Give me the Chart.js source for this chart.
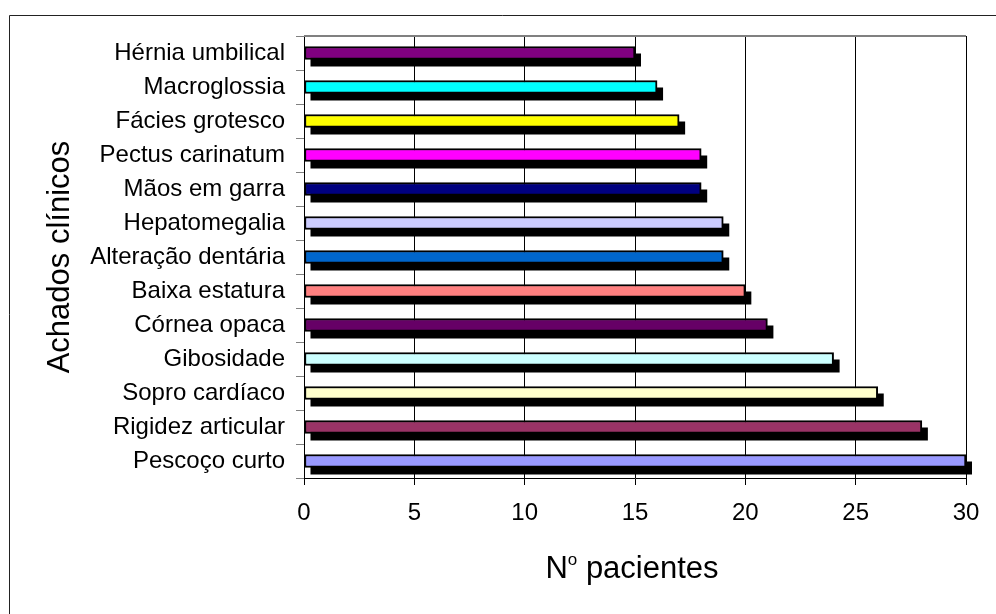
<!DOCTYPE html>
<html>
<head>
<meta charset="utf-8">
<script src="https://cdn.jsdelivr.net/npm/chart.js@4/dist/chart.umd.min.js"></script>
<style>
  html,body{margin:0;padding:0;background:#fff;}
  canvas{display:block;}
</style>
</head>
<body>
<canvas id="chart" width="996" height="614"></canvas>
<script>
// ===== Dados =====
const categories = [
  "Hérnia umbilical","Macroglossia","Fácies grotesco","Pectus carinatum",
  "Mãos em garra","Hepatomegalia","Alteração dentária","Baixa estatura",
  "Córnea opaca","Gibosidade","Sopro cardíaco","Rigidez articular","Pescoço curto"
];
const pacientes = [15,16,17,18,18,19,19,20,21,24,26,28,30];
const barColors = [
  "#800080","#00FFFF","#FFFF00","#FF00FF","#000080","#CCCCFF","#0066CC",
  "#FF8080","#660066","#CCFFFF","#FFFFCC","#993366","#9999FF"
];
const xTicks = [0,5,10,15,20,25,30];

const FONT = "'Liberation Sans', Arial, sans-serif";

// ===== Moldura + sombra + titulo X =====
const framePlugin = {
  id: "frame",
  beforeDraw(chart){
    const ctx = chart.ctx;
    ctx.save();
    ctx.strokeStyle = "#222";
    ctx.lineWidth = 1;
    ctx.beginPath();
    ctx.moveTo(9.5, chart.height);
    ctx.lineTo(9.5, 15.5);
    ctx.lineTo(chart.width, 15.5);
    ctx.stroke();
    ctx.restore();
  },
  beforeDatasetsDraw(chart){
    const ctx = chart.ctx, area = chart.chartArea;
    ctx.save();
    // linha cinza no topo da area do grafico
    ctx.strokeStyle = "#808080";
    ctx.lineWidth = 2;
    ctx.beginPath();
    ctx.moveTo(area.left, area.top);
    ctx.lineTo(area.right, area.top);
    ctx.stroke();
    // sombras das barras
    ctx.fillStyle = "#000";
    chart.getDatasetMeta(0).data.forEach(bar => {
      const p = bar.getProps(["x","y","base","height"], true);
      ctx.fillRect(p.base + 6, p.y - p.height/2 + 7, p.x - p.base, p.height);
    });
    ctx.restore();
  },
  afterDraw(chart){
    const ctx = chart.ctx, area = chart.chartArea;
    ctx.save();
    ctx.fillStyle = "#000";
    ctx.textBaseline = "alphabetic";
    const big = "31px " + FONT, small = "17px " + FONT;
    ctx.font = big;  const wN = ctx.measureText("N").width;
    const wRest = ctx.measureText(" pacientes").width;
    ctx.font = small; const wO = ctx.measureText("o").width;
    let x = (area.left + area.right)/2 - (wN + wO + wRest)/2 - 3;
    const y = 578;
    ctx.font = big;   ctx.fillText("N", x, y); x += wN;
    ctx.font = small; ctx.fillText("o", x, y - 13); x += wO;
    ctx.font = big;   ctx.fillText(" pacientes", x, y);
    ctx.restore();
  }
};

new Chart(document.getElementById("chart"), {
  type: "bar",
  data: {
    labels: categories,
    datasets: [{
      data: pacientes,
      backgroundColor: barColors,
      borderColor: "#000",
      borderWidth: 2,
      borderSkipped: false,
      barThickness: 13
    }]
  },
  options: {
    indexAxis: "y",
    responsive: false,
    animation: false,
    layout: { padding: { left: 0, top: 36, right: 30, bottom: 0 } },
    plugins: { legend: { display: false }, tooltip: { enabled: false } },
    scales: {
      x: {
        min: 0, max: 30,
        afterBuildTicks(scale){ scale.ticks = xTicks.map(v => ({ value: v })); },
        afterFit(scale){ scale.height = 136; },
        grid: { color: "#000", lineWidth: 1, tickLength: 7, drawTicks: true },
        border: { color: "#000", width: 1 },
        ticks: { color: "#000", font: { family: FONT, size: 24 }, padding: 14, maxRotation: 0 }
      },
      y: {
        afterFit(scale){ scale.width = 304; },
        grid: { drawOnChartArea: false, offset: true, color: "#808080", tickLength: 8 },
        border: { color: "#000", width: 1 },
        ticks: { color: "#000", font: { family: FONT, size: 24 }, padding: 11, autoSkip: false },
        title: {
          display: true, text: "Achados clínicos", color: "#000",
          font: { family: FONT, size: 31 }, padding: { top: 42, bottom: 0 }
        }
      }
    }
  },
  plugins: [framePlugin]
});
</script>
</body>
</html>
